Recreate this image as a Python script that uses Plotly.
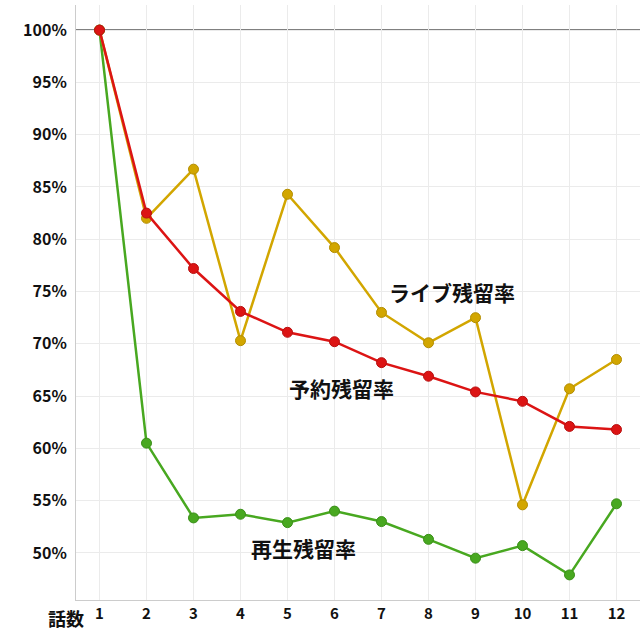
import plotly.graph_objects as go

episodes = [1, 2, 3, 4, 5, 6, 7, 8, 9, 10, 11, 12]
play_retention = [100, 60.5, 53.35, 53.7, 52.9, 54.0, 53.0, 51.3, 49.5, 50.7, 47.9, 54.7]
live_retention = [100, 82.0, 86.7, 70.3, 84.3, 79.2, 73.0, 70.1, 72.5, 54.6, 65.7, 68.5]
reserve_retention = [100, 82.5, 77.2, 73.1, 71.1, 70.2, 68.2, 66.9, 65.4, 64.5, 62.1, 61.8]
y_ticks = [50, 55, 60, 65, 70, 75, 80, 85, 90, 95, 100]
y_tick_text = [f"{v}%" for v in y_ticks]

FONT = "Noto Sans CJK JP"

fig = go.Figure()
series = [
    ("再生残留率", play_retention, "#48a820", "#3a8f18"),
    ("ライブ残留率", live_retention, "#d2a600", "#b38d00"),
    ("予約残留率", reserve_retention, "#dc1414", "#b81010"),
]
for name, vals, col, edge in series:
    fig.add_trace(go.Scatter(
        x=episodes, y=vals, mode="lines+markers", name=name,
        line=dict(color=col, width=2.5),
        marker=dict(size=10, color=col, line=dict(color=edge, width=1)),
    ))

fig.add_hline(y=100, line=dict(color="#808080", width=2), layer="below")

labels = [
    ("ライブ残留率", 8.49, 74.95),
    ("予約残留率", 6.14, 65.8),
    ("再生残留率", 5.33, 50.5),
]
for text, x, y in labels:
    fig.add_annotation(x=x, y=y, text=text, showarrow=False,
                       font=dict(family=FONT, size=21, color="#111111", weight="bold"))

fig.add_annotation(xref="paper", yref="paper", x=-0.018, y=-0.005, xanchor="center", yanchor="top",
                   text="話数", showarrow=False,
                   font=dict(family=FONT, size=18, color="#111111", weight="bold"))

fig.update_layout(
    width=640, height=640,
    margin=dict(l=76, r=0, t=5, b=40, autoexpand=False),
    paper_bgcolor="white", plot_bgcolor="white",
    showlegend=False,
    font=dict(family=FONT),
)
fig.update_xaxes(
    range=[0.5, 12.5], tickmode="array", tickvals=episodes,
    ticktext=[str(e) for e in episodes],
    tickfont=dict(family=FONT, size=15, color="#111111", weight="bold"),
    showgrid=True, gridcolor="#ebebeb", gridwidth=1,
    showline=True, linecolor="#cccccc", linewidth=1,
    zeroline=False, ticks="", ticklen=0,
)
fig.update_yaxes(
    range=[45.5, 102.4], tickmode="array", tickvals=y_ticks, ticktext=y_tick_text,
    tickfont=dict(family=FONT, size=16, color="#111111", weight="bold"),
    showgrid=True, gridcolor="#ebebeb", gridwidth=1,
    showline=True, linecolor="#cccccc", linewidth=1,
    zeroline=False, ticks="", ticklen=0, ticklabelstandoff=5,
)

fig.write_html("out.html", config={"displayModeBar": False},
               post_script="document.body.style.margin='0';")
